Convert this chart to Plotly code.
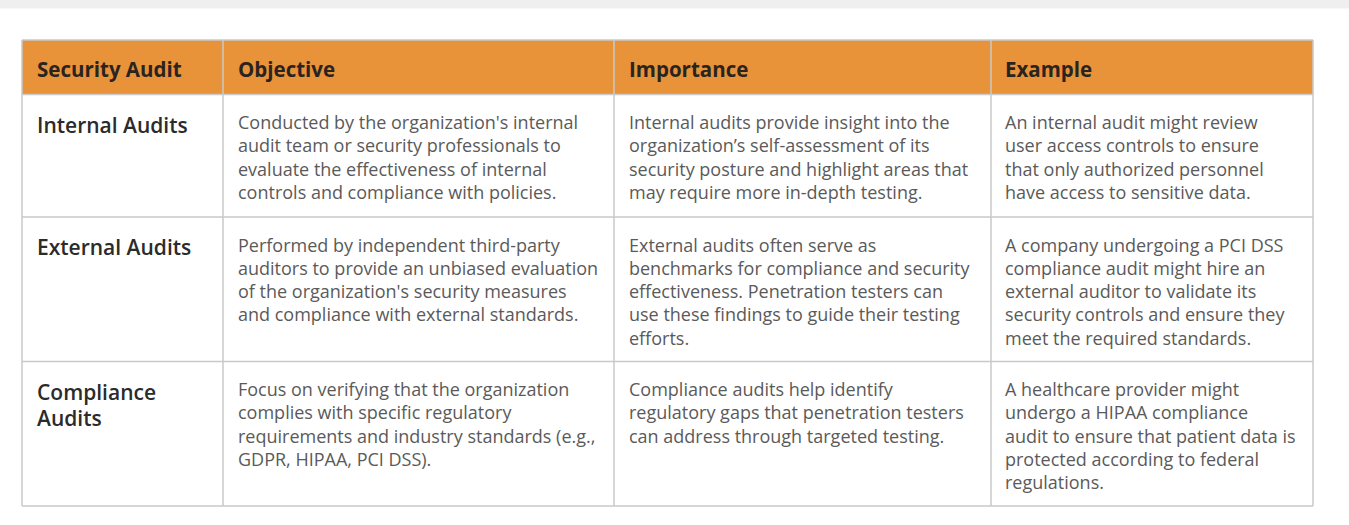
import plotly.graph_objects as go

# table content
headers = ["Security Audit", "Objective", "Importance", "Example"]
audit_types = ["Internal Audits", "External Audits", "Compliance\nAudits"]
objective = [
    "Conducted by the organization's internal\naudit team or security professionals to\nevaluate the effectiveness of internal\ncontrols and compliance with policies.",
    "Performed by independent third-party\nauditors to provide an unbiased evaluation\nof the organization's security measures\nand compliance with external standards.",
    "Focus on verifying that the organization\ncomplies with specific regulatory\nrequirements and industry standards (e.g.,\nGDPR, HIPAA, PCI DSS).",
]
importance = [
    "Internal audits provide insight into the\norganization\u2019s self-assessment of its\nsecurity posture and highlight areas that\nmay require more in-depth testing.",
    "External audits often serve as\nbenchmarks for compliance and security\neffectiveness. Penetration testers can\nuse these findings to guide their testing\nefforts.",
    "Compliance audits help identify\nregulatory gaps that penetration testers\ncan address through targeted testing.",
]
example = [
    "An internal audit might review\nuser access controls to ensure\nthat only authorized personnel\nhave access to sensitive data.",
    "A company undergoing a PCI DSS\ncompliance audit might hire an\nexternal auditor to validate its\nsecurity controls and ensure they\nmeet the required standards.",
    "A healthcare provider might\nundergo a HIPAA compliance\naudit to ensure that patient data is\nprotected according to federal\nregulations.",
]

W, H = 1349, 525
col_edges = [22, 223, 614, 991, 1313]
row_edges = [40, 94.5, 217, 361.5, 506]
text_pad = [13, 13, 13, 12]
FONT = "Open Sans"
grid = "#c9c9c9"
orange = "#e8923a"

fig = go.Figure()
shapes = []
annots = []

# gray strip at the very top
shapes.append(dict(type="rect", x0=0, x1=W, y0=0, y1=8.5, fillcolor="#efefef", line_width=0, layer="below"))
# header band
shapes.append(dict(type="rect", x0=col_edges[0], x1=col_edges[-1], y0=row_edges[0], y1=row_edges[1],
                   fillcolor=orange, line_width=0, layer="below"))
# grid lines
for x in col_edges:
    shapes.append(dict(type="line", x0=x, x1=x, y0=row_edges[0], y1=row_edges[-1], line=dict(color=grid, width=1.5)))
for y in row_edges:
    shapes.append(dict(type="line", x0=col_edges[0], x1=col_edges[-1], y0=y, y1=y, line=dict(color=grid, width=1.5)))

# header text
for i, h in enumerate(headers):
    annots.append(dict(x=col_edges[i] + text_pad[i], y=68.5, text="<b>" + h + "</b>", showarrow=False,
                       xanchor="left", yanchor="middle", font=dict(family=FONT, size=20.5, color="#2a2420")))


def put_lines(txt, x, y0, step, size, color, weight="normal"):
    for k, line in enumerate(txt.split("\n")):
        annots.append(dict(x=x, y=y0 + k * step, text=line, showarrow=False, xanchor="left",
                           yanchor="middle", font=dict(family=FONT, size=size, color=color, weight=weight)))


for r in range(3):
    top = row_edges[r + 1]
    put_lines(audit_types[r], col_edges[0] + text_pad[0], top + 30, 26.7, 21, "#2b2b2b", 600)
    for c, col in enumerate([objective, importance, example]):
        put_lines(col[r], col_edges[c + 1] + text_pad[c + 1], top + 27.5, 23.3, 18, "#5a5a5a")

fig.update_layout(
    width=W, height=H, margin=dict(l=0, r=0, t=0, b=0),
    paper_bgcolor="white", plot_bgcolor="white",
    xaxis=dict(range=[0, W], visible=False, fixedrange=True),
    yaxis=dict(range=[H, 0], visible=False, fixedrange=True),
    shapes=shapes, annotations=annots, showlegend=False,
)

fig.write_html("out.html", config={"displayModeBar": False},
               post_script="document.body.style.margin='0';")
